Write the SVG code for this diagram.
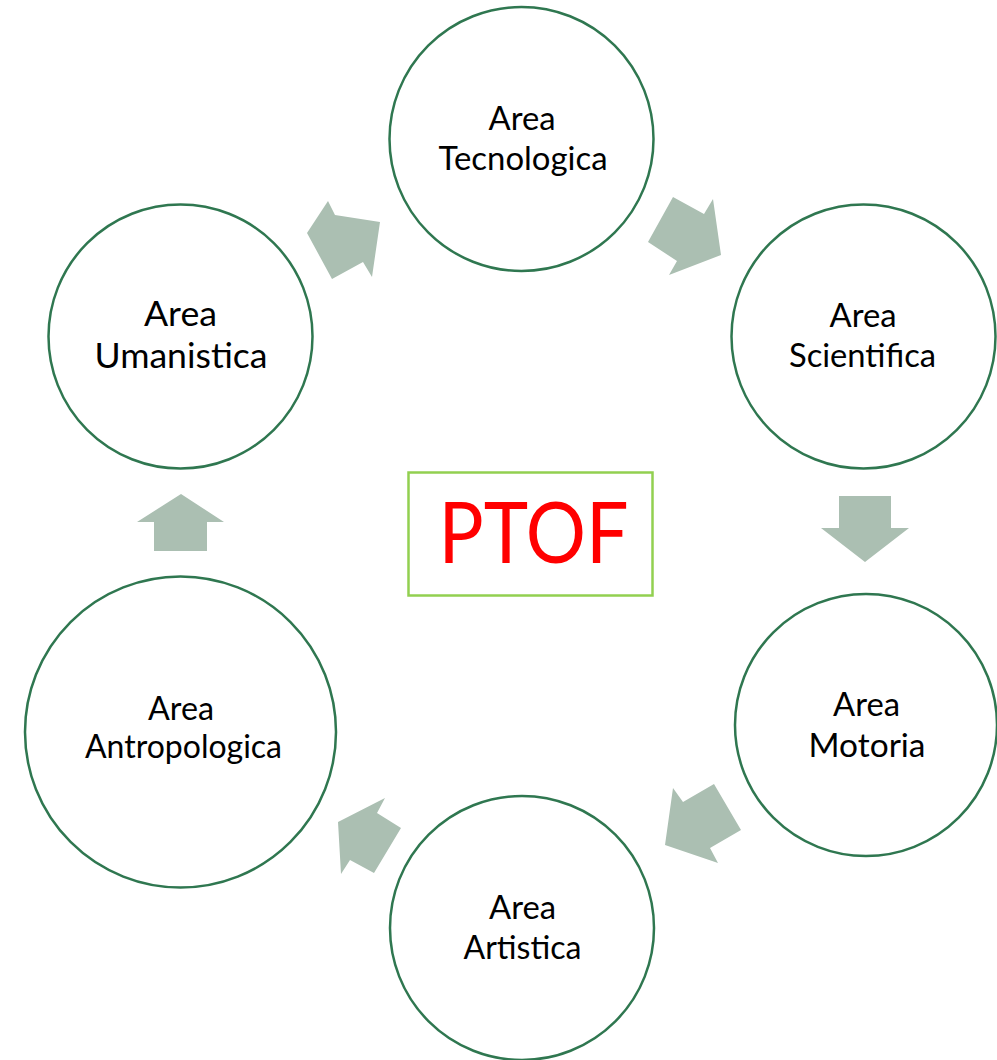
<svg xmlns="http://www.w3.org/2000/svg" width="997" height="1060" viewBox="0 0 997 1060">
<style>
.node{fill:#FFFFFF;stroke:#2F7750;stroke-width:2.5}
.lbl{font-family:Lato,"Open Sans","Liberation Sans",sans-serif;font-size:32px;fill:#000000;text-anchor:middle}
.big{font-size:34.5px}
.arrow{fill:#ABBFB2;stroke:none}
.box{fill:#FFFFFF;stroke:#92D050;stroke-width:2.5}
.title{font-family:Lato,"Open Sans","Liberation Sans",sans-serif;font-size:86px;fill:#FF0000;text-anchor:middle}
</style>
<rect width="997" height="1060" fill="#FFFFFF"/>
<g id="connectors">
<polygon class="arrow" points="307,233 328,201 335,215 380,222 372,277 363,262 332,279"/>
<polygon class="arrow" points="648,242 673,197 704,214 713,199 721,255 669,275 677,261"/>
<polygon class="arrow" points="839,496 891,496 891,528 909,528 865,562 821,528 839,528"/>
<polygon class="arrow" points="714,784 741,830 710,848 718,863 665,845 673,788 683,802"/>
<polygon class="arrow" points="401,828 374,873 350,860 341,874 338,822 385,798 377,813"/>
<polygon class="arrow" points="154,551 154,522 137,522 181,494 224,522 207,522 207,551"/>
</g>
<g id="node-tecnologica">
<circle class="node" cx="521.5" cy="139" r="132"/>
<text class="lbl" x="522" y="130" textLength="67" lengthAdjust="spacingAndGlyphs">Area</text>
<text class="lbl" x="523" y="170" textLength="169" lengthAdjust="spacingAndGlyphs">Tecnologica</text>
</g>
<g id="node-scientifica">
<circle class="node" cx="863.5" cy="336.5" r="132"/>
<text class="lbl" x="863" y="327" textLength="67" lengthAdjust="spacingAndGlyphs">Area</text>
<text class="lbl" x="862.5" y="367" textLength="147" lengthAdjust="spacingAndGlyphs">Scientifica</text>
</g>
<g id="node-motoria">
<circle class="node" cx="866" cy="725" r="131"/>
<text class="lbl" x="866.5" y="716" textLength="67" lengthAdjust="spacingAndGlyphs">Area</text>
<text class="lbl" x="867" y="757" textLength="117" lengthAdjust="spacingAndGlyphs">Motoria</text>
</g>
<g id="node-artistica">
<circle class="node" cx="522" cy="928" r="132"/>
<text class="lbl" x="522.5" y="919" textLength="67" lengthAdjust="spacingAndGlyphs">Area</text>
<text class="lbl" x="522.5" y="959" textLength="118" lengthAdjust="spacingAndGlyphs">Artistica</text>
</g>
<g id="node-antropologica">
<circle class="node" cx="180.5" cy="732" r="155.5"/>
<text class="lbl" x="181" y="720" textLength="66" lengthAdjust="spacingAndGlyphs">Area</text>
<text class="lbl" x="183.5" y="758" textLength="197" lengthAdjust="spacingAndGlyphs">Antropologica</text>
</g>
<g id="node-umanistica">
<circle class="node" cx="180.5" cy="336.5" r="132"/>
<text class="lbl big" x="180.5" y="326" textLength="73" lengthAdjust="spacingAndGlyphs">Area</text>
<text class="lbl big" x="181" y="368" textLength="173" lengthAdjust="spacingAndGlyphs">Umanistica</text>
</g>
<g id="node-ptof">
<rect class="box" x="408.5" y="472.5" width="244" height="123"/>
<text class="title" x="533.5" y="563" textLength="190" lengthAdjust="spacingAndGlyphs">PTOF</text>
</g>
</svg>
